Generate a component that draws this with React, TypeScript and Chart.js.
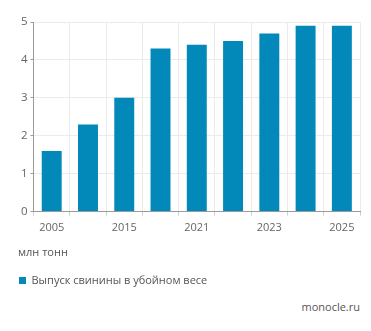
import React, { useEffect, useRef } from "react";
import { Chart, registerables } from "chart.js";

Chart.register(...registerables);

const categories = ["2005", "2010", "2015", "2020", "2021", "2022", "2023", "2024", "2025"];
const shownLabels = ["2005", "", "2015", "", "2021", "", "2023", "", "2025"];
const values = [1.6, 2.3, 3.0, 4.3, 4.4, 4.5, 4.7, 4.9, 4.9];
const seriesName = "Выпуск свинины в убойном весе";
const unitLabel = "млн тонн";
const sourceLabel = "monocle.ru";

const FONT = "'Open Sans', sans-serif";

export default function App() {
  const ref = useRef<HTMLCanvasElement | null>(null);

  useEffect(() => {
    if (!ref.current) return;
    const chart = new Chart(ref.current, {
      type: "bar",
      data: {
        labels: categories,
        datasets: [
          {
            label: seriesName,
            data: values,
            backgroundColor: "#0388ba",
            borderWidth: 0,
            barPercentage: 0.55,
            categoryPercentage: 1,
          },
        ],
      },
      options: {
        animation: false,
        responsive: true,
        maintainAspectRatio: false,
        layout: { padding: { left: 10, right: 3, top: 14, bottom: 0 } },
        plugins: {
          tooltip: { enabled: false },
          title: {
            display: true,
            text: unitLabel,
            position: "bottom",
            align: "start",
            color: "#555",
            font: { family: FONT, size: 11, weight: "normal" },
            padding: { top: 5, bottom: 15 },
          },
          legend: {
            display: true,
            position: "bottom",
            align: "start",
            weight: 3000,
            labels: {
              boxWidth: 7,
              boxHeight: 7,
              padding: 1,
              color: "#555",
              font: { family: FONT, size: 11 },
            },
          } as any,
        },
        scales: {
          x: {
            grid: {
              offset: true,
              color: "#ebebeb",
              tickLength: 4,
              tickColor: "#cfcfcf",
            },
            border: { color: "#9a9a9a" },
            ticks: {
              color: "#666",
              font: { family: FONT, size: 11 },
              autoSkip: false,
              maxRotation: 0,
              padding: 6,
              callback: (_v: any, i: number) => shownLabels[i],
            },
          },
          y: {
            min: 0,
            max: 5,
            grid: { color: "#ebebeb", tickLength: 3, tickColor: "#9a9a9a" },
            border: { color: "#9a9a9a" },
            ticks: {
              stepSize: 1,
              color: "#666",
              font: { family: FONT, size: 11.5 },
              padding: 3,
            },
          },
        },
      },
    });
    return () => chart.destroy();
  }, []);

  return (
    <div style={{ width: 355 }}>
      <div style={{ position: "relative", height: 288 }}>
        <canvas ref={ref} />
      </div>
      <div
        style={{
          textAlign: "right",
          fontFamily: FONT,
          fontSize: 11,
          color: "#555",
          marginTop: 3,
          paddingRight: 3,
        }}
      >
        {sourceLabel}
      </div>
    </div>
  );
}
